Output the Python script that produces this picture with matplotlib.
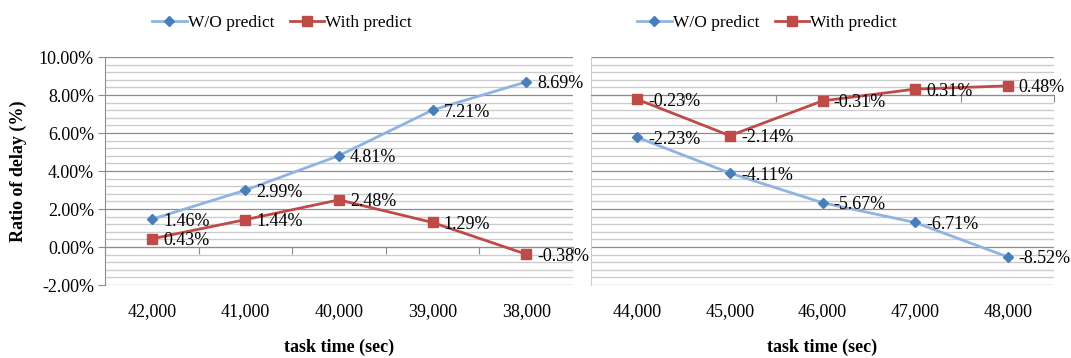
import matplotlib.pyplot as plt
from matplotlib.ticker import MultipleLocator, NullFormatter, FuncFormatter

plt.rcParams['font.family'] = ['Liberation Serif', 'DejaVu Serif']

# delay ratio (%) per task time
left_times = ['42,000', '41,000', '40,000', '39,000', '38,000']
left_without = [1.46, 2.99, 4.81, 7.21, 8.69]
left_with = [0.43, 1.44, 2.48, 1.29, -0.38]

right_times = ['44,000', '45,000', '46,000', '47,000', '48,000']
right_without = [-2.23, -4.11, -5.67, -6.71, -8.52]
right_with = [-0.23, -2.14, -0.31, 0.31, 0.48]

blue_line = '#8DB4E2'
blue_mark = '#4A7EBB'
red = '#BE4B48'
axis_gray = '#8c8c8c'

W, H = 1071, 358
fig = plt.figure(figsize=(W / 100, H / 100), dpi=100)
ax1 = fig.add_axes([105 / W, 73 / H, 468 / W, 228 / H])
ax2 = fig.add_axes([591 / W, 73 / H, 463 / W, 228 / H])


def draw(ax, times, wo, wi, ylim, legend_x, show_y):
    x = list(range(len(times)))
    ax.plot(x, wo, color=blue_line, lw=2, marker='D', ms=5.5,
            mfc=blue_mark, mec=blue_mark, label='W/O predict', zorder=3)
    ax.plot(x, wi, color=red, lw=2, marker='s', ms=7,
            mfc=red, mec=red, label='With predict', zorder=3)
    for vals in (wo, wi):
        for i, v in zip(x, vals):
            ax.annotate(f'{v:.2f}%', (i, v), xytext=(8, -1.5),
                        textcoords='offset points', va='center', ha='left',
                        fontsize=13, zorder=4, annotation_clip=False)

    ax.set_xlim(-0.5, len(times) - 0.5)
    ax.set_ylim(*ylim)
    ax.yaxis.set_major_locator(MultipleLocator(2))
    ax.yaxis.set_minor_locator(MultipleLocator(0.4))
    ax.grid(which='major', axis='y', color=axis_gray, lw=0.9)
    ax.grid(which='minor', axis='y', color='#cccccc', lw=1.0)
    ax.set_axisbelow(True)

    for s in ('top', 'right'):
        ax.spines[s].set_visible(False)
    ax.spines['left'].set_color(axis_gray if show_y else '#cccccc')
    ax.spines['bottom'].set_position(('data', 0))
    ax.spines['bottom'].set_color(axis_gray)

    # category boundaries carry the tick marks on the zero line
    ax.set_xticks([b + 0.5 for b in range(-1, len(times))])
    ax.xaxis.set_major_formatter(NullFormatter())
    ax.tick_params(axis='x', which='major', direction='out', length=5,
                   color=axis_gray)
    ax.tick_params(axis='x', which='minor', length=0)

    sec = ax.secondary_xaxis(0)
    sec.set_xticks(x, times)
    sec.tick_params(length=0, pad=13, labelsize=13)
    sec.spines['bottom'].set_visible(False)

    if show_y:
        ax.yaxis.set_major_formatter(FuncFormatter(lambda v, p: f'{v:.2f}%'))
        ax.tick_params(axis='y', which='major', direction='out', length=5,
                       color=axis_gray, labelsize=13, pad=3)
    else:
        ax.tick_params(axis='y', which='major', length=0, labelleft=False)
    ax.tick_params(axis='y', which='minor', length=0)

    ax.text(0.5, -62 / 228, 'task time (sec)', transform=ax.transAxes,
            ha='center', va='center', fontsize=13, fontweight='bold')

    ax.legend(loc='center', bbox_to_anchor=(legend_x, 1 - 23 / H),
              bbox_transform=fig.transFigure, ncol=2, frameon=False,
              fontsize=12.5, handlelength=2.0, columnspacing=0.9,
              handletextpad=0.05)


draw(ax1, left_times, left_without, left_with, (-2, 10), 282 / W, True)
draw(ax2, right_times, right_without, right_with, (-10, 2), 767 / W, False)

fig.text(18 / W, 1 - 171 / H, 'Ratio of delay (%)', rotation=90,
         ha='center', va='center', fontsize=13, fontweight='bold')

fig.savefig('out.png', dpi=100)
